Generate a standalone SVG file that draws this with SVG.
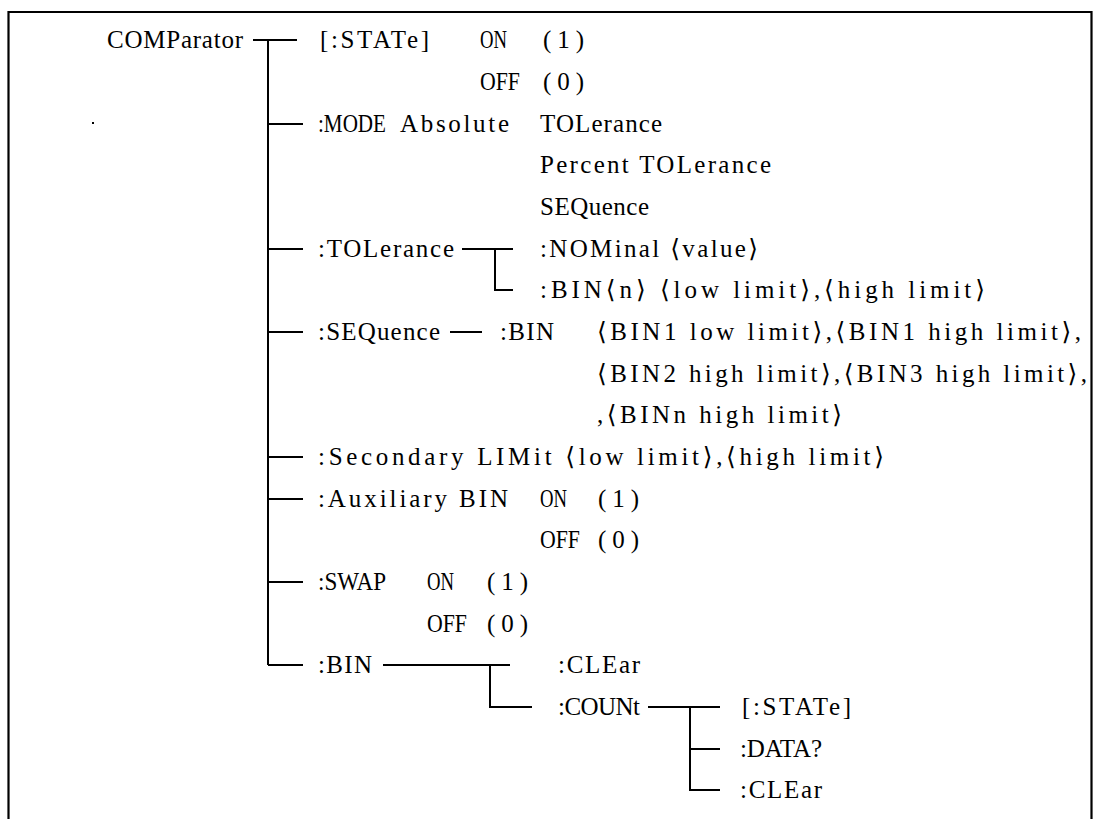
<svg xmlns="http://www.w3.org/2000/svg" width="1095" height="819" viewBox="0 0 1095 819">
<style>
text{font-family:"Liberation Serif","DejaVu Serif","Noto Sans CJK SC",serif;font-size:25px;fill:#000}
.c{stroke:#000;stroke-width:2;fill:none}
.f{stroke:#000;stroke-width:2.2;fill:none}
</style>
<rect width="1095" height="819" fill="#fff"/>
<path class="f" d="M8.5,819 V12 H1091.5 V819"/>
<rect x="92" y="122" width="2" height="2" fill="#000"/>
<g id="connectors">
<path class="c" d="M253,40 H297 M268,40 V665 M268,124 H303 M268,249 H303 M268,332 H303 M268,457 H303 M268,499 H303 M268,582 H303 M268,665 H303"/>
<path class="c" d="M462,249 H513 M495,249 V290 H513"/>
<path class="c" d="M450,332 H482"/>
<path class="c" d="M383,665 H510 M490,665 V707 H532"/>
<path class="c" d="M648,707 H720 M690,707 V791 M690,749 H720 M690,790 H720"/>
</g>
<g id="comparator"><text x="107" y="48" textLength="136" lengthAdjust="spacing">COMParator</text></g>
<g id="state">
<text x="320" y="48" textLength="109" lengthAdjust="spacing">[:STATe]</text>
<text x="480" y="48" textLength="27" lengthAdjust="spacingAndGlyphs">ON</text><text x="543" y="48" textLength="41" lengthAdjust="spacing">(1)</text>
<text x="480" y="90" textLength="40" lengthAdjust="spacingAndGlyphs">OFF</text><text x="543" y="90" textLength="41" lengthAdjust="spacing">(0)</text>
</g>
<g id="mode">
<text x="318" y="132" textLength="68" lengthAdjust="spacingAndGlyphs">:MODE</text>
<text x="400" y="132" textLength="109" lengthAdjust="spacing">Absolute</text>
<text x="540" y="132" textLength="122" lengthAdjust="spacing">TOLerance</text>
<text x="540" y="173" textLength="231" lengthAdjust="spacing">Percent TOLerance</text>
<text x="540" y="215" textLength="109" lengthAdjust="spacing">SEQuence</text>
</g>
<g id="tolerance">
<text x="318" y="257" textLength="136" lengthAdjust="spacing">:TOLerance</text>
<text x="540" y="257" textLength="218" lengthAdjust="spacing">:NOMinal ⟨value⟩</text>
<text x="540" y="298" textLength="445" lengthAdjust="spacing">:BIN⟨n⟩ ⟨low limit⟩,⟨high limit⟩</text>
</g>
<g id="sequence">
<text x="318" y="340" textLength="122" lengthAdjust="spacing">:SEQuence</text>
<text x="500" y="340" textLength="54" lengthAdjust="spacing">:BIN</text>
<text x="597" y="340" textLength="484" lengthAdjust="spacing">⟨BIN1 low limit⟩,⟨BIN1 high limit⟩,</text>
<text x="597" y="382" textLength="490" lengthAdjust="spacing">⟨BIN2 high limit⟩,⟨BIN3 high limit⟩,</text>
<text x="597" y="423" textLength="245" lengthAdjust="spacing">,⟨BINn high limit⟩</text>
</g>
<g id="secondary"><text x="318" y="465" textLength="566" lengthAdjust="spacing">:Secondary LIMit ⟨low limit⟩,⟨high limit⟩</text></g>
<g id="auxiliary">
<text x="318" y="507" textLength="190" lengthAdjust="spacing">:Auxiliary BIN</text>
<text x="540" y="507" textLength="27" lengthAdjust="spacingAndGlyphs">ON</text><text x="598" y="507" textLength="41" lengthAdjust="spacing">(1)</text>
<text x="540" y="548" textLength="40" lengthAdjust="spacingAndGlyphs">OFF</text><text x="598" y="548" textLength="41" lengthAdjust="spacing">(0)</text>
</g>
<g id="swap">
<text x="318" y="590" textLength="68" lengthAdjust="spacingAndGlyphs">:SWAP</text>
<text x="427" y="590" textLength="27" lengthAdjust="spacingAndGlyphs">ON</text><text x="487" y="590" textLength="41" lengthAdjust="spacing">(1)</text>
<text x="427" y="632" textLength="40" lengthAdjust="spacingAndGlyphs">OFF</text><text x="487" y="632" textLength="41" lengthAdjust="spacing">(0)</text>
</g>
<g id="bin">
<text x="318" y="673" textLength="54" lengthAdjust="spacing">:BIN</text>
<text x="558" y="673" textLength="82" lengthAdjust="spacing">:CLEar</text>
</g>
<g id="count">
<text x="558" y="715" textLength="82" lengthAdjust="spacing">:COUNt</text>
<text x="742" y="715" textLength="109" lengthAdjust="spacing">[:STATe]</text>
<text x="740" y="757" textLength="82" lengthAdjust="spacing">:DATA?</text>
<text x="740" y="798" textLength="82" lengthAdjust="spacing">:CLEar</text>
</g>
</svg>
